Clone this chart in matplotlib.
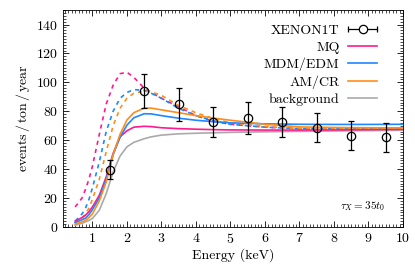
import matplotlib
matplotlib.use("Agg")
import matplotlib.pyplot as plt
from matplotlib.ticker import MultipleLocator
from matplotlib.legend_handler import HandlerBase
from matplotlib.lines import Line2D

plt.rcParams.update({
    "font.family": "serif",
    "font.serif": ["cmr10"],
    "mathtext.fontset": "cm",
    "axes.formatter.use_mathtext": True,
    "font.size": 10,
    "xtick.direction": "in",
    "ytick.direction": "in",
    "xtick.top": True,
    "ytick.right": True,
})

# XENON1T data
xe_E = [1.5, 2.5, 3.5, 4.5, 5.5, 6.5, 7.5, 8.5, 9.5]
xe_rate = [39.5, 94, 84.7, 72.5, 75.4, 72.5, 68.5, 63, 62]
xe_err = [6.5, 12, 11.5, 10.5, 11, 10.5, 10, 10, 10]

# model curves
E = [0.5, 0.7, 0.8, 0.9, 1.0, 1.2, 1.4, 1.6, 1.8, 2.0, 2.2, 2.5, 2.7, 3.0, 3.5, 4.0, 4.5, 5.0, 6.0, 7.0, 8.0, 9.0, 10.0]
bkg = [1.2, 2.5, 3.5, 4.5, 5.8, 11.5, 23, 38, 49, 55.4, 58.5, 61, 62.3, 63.5, 64.4, 64.8, 65.1, 65.4, 65.8, 66.1, 66.4, 66.6, 66.9]
mq = [3.9, 6.5, 8.1, 10.5, 13.8, 21.9, 34.6, 50.8, 62.3, 66.5, 69, 69.6, 69.4, 68.6, 68, 67.6, 67.3, 67.1, 67, 67, 67.1, 67.3, 67.5]
mdm = [3, 5, 6, 8.5, 12, 20, 33, 50, 62, 70.4, 75.5, 78.3, 78.2, 77, 75.2, 73.8, 72.8, 72, 71.3, 71, 70.9, 70.9, 71]
am = [2, 3.5, 4.5, 6.5, 9, 18, 31, 50, 64, 74, 79, 82.2, 82.2, 81, 79, 77, 75.3, 73.8, 71, 69.2, 68.8, 68.6, 68.5]
mq_d = [13.8, 20, 26, 33, 42, 64, 85, 98, 106, 107, 103.5, 96, 93, 89, 83, 77, 73, 71, 69, 68, 68, 68.2, 68.5]
mdm_d = [4, 9, 13, 19, 27, 45, 66, 80, 89, 93, 95, 94.5, 92.5, 89, 82, 77, 73.5, 71, 69, 68, 68, 68.2, 68.5]
am_d = [3, 6, 9, 13, 19, 33, 52, 70, 82, 89, 92.5, 94, 93.5, 91, 84, 79, 75, 72, 69.5, 68, 68, 68.2, 68.5]

c_mq = "#ff1a8c"
c_mdm = "#1e88ff"
c_am = "#ff8c1a"
c_bkg = "#aaaaaa"


class ErrbarHandler(HandlerBase):
    # horizontal bar with end caps and an open circle, like the reference legend
    def create_artists(self, legend, orig, xd, yd, width, height, fontsize, trans):
        y = height / 2 - yd
        x0, x1 = -xd, width - xd
        line = Line2D([x0, x1], [y, y], color="black", lw=0.9)
        caps = Line2D([x0, x1], [y, y], ls="none", marker="|", ms=5, mew=0.9, color="black")
        circ = Line2D([(x0 + x1) / 2], [y], ls="none", marker="o", ms=6, mfc="white", mec="black", mew=0.9)
        for a in (line, caps, circ):
            a.set_transform(trans)
        return [line, caps, circ]


fig = plt.figure(figsize=(4.15, 2.66), dpi=100)
ax = fig.add_axes([0.152, 0.147, 0.819, 0.815])

lw = 1.2
ax.plot(E, mq_d, color=c_mq, lw=lw, ls=(0, (2.5, 2.5)))
ax.plot(E, mdm_d, color=c_mdm, lw=lw, ls=(0, (2.5, 2.5)))
ax.plot(E, am_d, color=c_am, lw=lw, ls=(0, (2.5, 2.5)))
ax.plot(E, bkg, color=c_bkg, lw=lw, label="background")
ax.plot(E, mq, color=c_mq, lw=lw, label="MQ")
ax.plot(E, mdm, color=c_mdm, lw=lw, label="MDM/EDM")
ax.plot(E, am, color=c_am, lw=lw, label="AM/CR")
ax.errorbar(xe_E, xe_rate, yerr=xe_err, fmt="o", mfc="none", mec="black", color="black",
            ms=6, mew=0.9, elinewidth=0.9, capsize=2, capthick=0.9, zorder=5)

ax.set_xlim(0.15, 10)
ax.set_ylim(0, 150)
ax.xaxis.set_major_locator(MultipleLocator(1))
ax.xaxis.set_minor_locator(MultipleLocator(0.1))
ax.yaxis.set_major_locator(MultipleLocator(20))
ax.yaxis.set_minor_locator(MultipleLocator(2))
ax.tick_params(which="major", length=4, width=0.6)
ax.tick_params(which="minor", length=2, width=0.5)
for s in ax.spines.values():
    s.set_linewidth(0.6)

ax.set_xlabel("Energy (keV)", labelpad=2)
ax.set_ylabel(r"events$\,/\,$ton$\,/\,$year", labelpad=3)

h, l = ax.get_legend_handles_labels()
proxy = Line2D([], [])
order = ["XENON1T", "MQ", "MDM/EDM", "AM/CR", "background"]
hh = [proxy] + [h[l.index(k)] for k in order[1:]]
ax.legend(hh, order, loc="upper right", frameon=False, markerfirst=False,
          handlelength=2.1, handletextpad=0.6, labelspacing=0.3, borderaxespad=0.6,
          bbox_to_anchor=(0.965, 1.0), handler_map={proxy: ErrbarHandler()})

ax.text(0.947, 0.097, r"$\tau_X = 35 t_0$", transform=ax.transAxes, ha="right", va="center", fontsize=8)

fig.savefig("out.png", dpi=100)
